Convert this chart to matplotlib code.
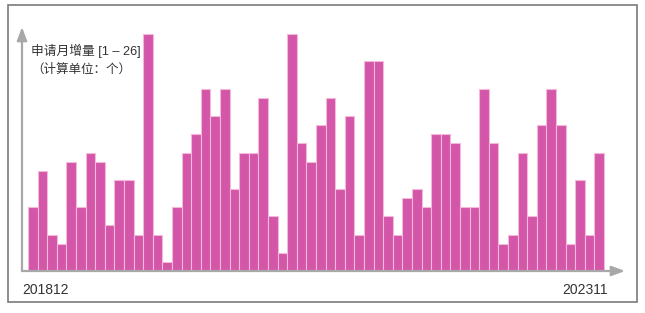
import matplotlib
matplotlib.use('Agg')
import matplotlib.pyplot as plt
from matplotlib.patches import Rectangle

plt.rcParams['font.family'] = ['Liberation Sans', 'Noto Sans CJK SC', 'DejaVu Sans']

# monthly values 201812 .. 202311
months = ['201812', '202311']
values = [7, 11, 4, 3, 12, 7, 13, 12, 5, 10,
          10, 4, 26, 4, 1, 7, 13, 15, 20, 17,
          20, 9, 13, 13, 19, 6, 2, 26, 14, 12,
          16, 19, 9, 17, 4, 23, 23, 6, 4, 8,
          9, 7, 15, 15, 14, 7, 7, 20, 14, 3,
          4, 13, 6, 16, 20, 16, 3, 10, 4, 13]

W, H = 645, 313
fig = plt.figure(figsize=(W / 100, H / 100), dpi=100)

def px(x, y):
    return x / W, 1 - y / H

# outer frame
fig.patches.append(Rectangle(px(7.5, 301.5), 629 / W, 297 / H, transform=fig.transFigure,
                             fill=False, edgecolor='#7a7a7a', lw=1.2))

left, right, top, bottom = 22, 625, 27, 271
ax = fig.add_axes([left / W, 1 - bottom / H, (right - left) / W, (bottom - top) / H])
ax.patch.set_alpha(0)

x = list(range(len(values)))
ax.bar(x, values, width=1.0, color='#d456a8', edgecolor='#f4b8dc', linewidth=0.8)

bar_px = 576 / len(values)
ax.set_xlim(-0.5 - 6 / bar_px, len(values) - 0.5 + 21 / bar_px)
ax.set_ylim(0, (bottom - top) / ((bottom - 34) / 26))

for s in ax.spines.values():
    s.set_visible(False)
ax.set_xticks([])
ax.set_yticks([])

arrow = dict(arrowstyle='-|>,head_length=0.8,head_width=0.3', color='#a8a8a8', lw=1.6,
             shrinkA=0, shrinkB=0)
ax.annotate('', xy=(1, 0), xytext=(0, 0), xycoords='axes fraction', arrowprops=arrow)
ax.annotate('', xy=(0, 1), xytext=(0, 0), xycoords='axes fraction', arrowprops=arrow)

fig.text(*px(31, 51), '申请月增量 [1 – 26]', fontsize=9.2, color='#333333', va='center', ha='left')
fig.text(*px(31, 70), '（计算单位：个）', fontsize=9, color='#333333', va='center', ha='left')
fig.text(*px(22, 290), months[0], fontsize=10, color='#333333', va='center', ha='left')
fig.text(*px(608, 290), months[1], fontsize=10, color='#333333', va='center', ha='right')

plt.savefig('out.png', dpi=100)
